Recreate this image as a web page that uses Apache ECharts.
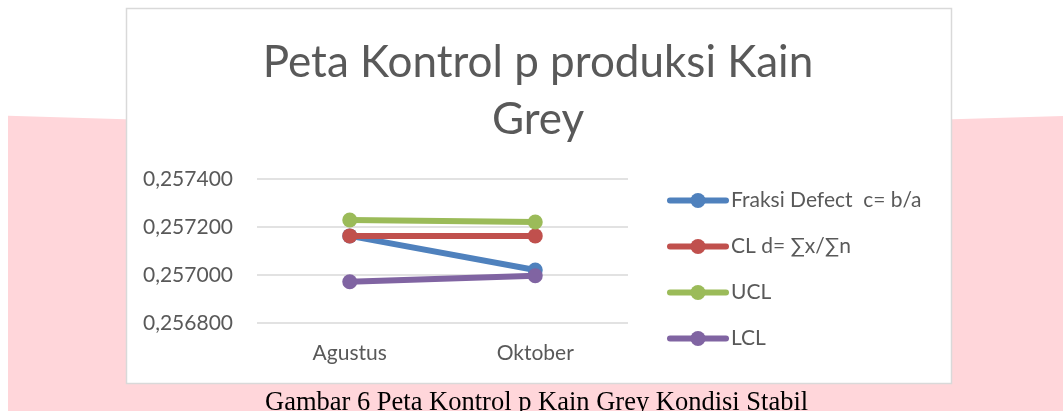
<!DOCTYPE html>
<html>
<head>
<meta charset="utf-8">
<script src="https://cdn.jsdelivr.net/npm/echarts@6/dist/echarts.min.js"></script>
<style>
  html,body{margin:0;padding:0;background:#fff;}
  #chart{width:1063px;height:411px;}
</style>
</head>
<body>
<div id="chart"></div>
<script>
// data
var months = ['Agustus', 'Oktober'];
var fraksiDefect = [0.257163, 0.257021];
var clLine = [0.257163, 0.257163];
var uclLine = [0.257229, 0.257221];
var lclLine = [0.256972, 0.256997];
var seriesNames = ['Fraksi Defect  c= b/a', 'CL d= \u2211x/\u2211n', 'UCL', 'LCL'];
var seriesColors = ['#4F81BD', '#C0504D', '#9BBB59', '#8064A2'];

var FONT = 'Lato, "Open Sans", sans-serif';

function mkSeries(i, data) {
  return {
    name: seriesNames[i],
    type: 'line',
    data: data,
    symbol: 'circle',
    symbolSize: 15,
    z: 2 + i,
    itemStyle: {color: seriesColors[i]},
    lineStyle: {color: seriesColors[i], width: 6},
    emphasis: {disabled: true}
  };
}

var option = {
  animation: false,
  backgroundColor: '#fff',
  graphic: [
    {
      type: 'polygon', z: -10, silent: true,
      shape: {points: [[8, 115.7], [125, 119.3], [540, 122], [953, 119.3], [1063, 116], [1063, 411], [8, 411]]},
      style: {fill: '#FFD6DA'}
    },
    {
      type: 'rect', z: -5, silent: true,
      shape: {x: 126.5, y: 8.5, width: 825, height: 375},
      style: {fill: '#fff', stroke: '#D9D9D9', lineWidth: 1.5}
    },
    {
      type: 'text', z: 5, silent: true,
      left: 265, top: 390,
      style: {
        text: 'Gambar 6 Peta Kontrol p Kain Grey Kondisi Stabil',
        fill: '#000', font: '26.5px "Liberation Serif", "Times New Roman", serif'
      }
    }
  ],
  title: {
    text: 'Peta Kontrol p produksi Kain\nGrey',
    left: 533,
    textAlign: 'center',
    top: 29,
    textStyle: {fontFamily: FONT, fontSize: 44, fontWeight: 'normal', color: '#595959', lineHeight: 57}
  },
  legend: {
    orient: 'vertical',
    left: 667,
    top: 190,
    padding: 0,
    itemWidth: 56,
    itemHeight: 19,
    itemGap: 25,
    data: seriesNames,
    lineStyle: {width: 6, cap: 'round'},
    textStyle: {fontFamily: FONT, fontSize: 21, color: '#595959'}
  },
  grid: {left: 257, right: 435, top: 179, bottom: 88},
  xAxis: {
    type: 'category',
    data: months,
    boundaryGap: true,
    axisLine: {show: false},
    axisTick: {show: false},
    axisLabel: {fontFamily: FONT, fontSize: 21, color: '#595959', margin: 20}
  },
  yAxis: {
    type: 'value',
    min: 0.2568,
    max: 0.2574,
    interval: 0.0002,
    axisLine: {show: false},
    axisTick: {show: false},
    splitLine: {lineStyle: {color: '#D9D9D9', width: 1.5}},
    axisLabel: {
      fontFamily: FONT, fontSize: 21, color: '#595959', margin: 24,
      formatter: function (v) { return v.toFixed(6).replace('.', ','); }
    }
  },
  series: [
    mkSeries(0, fraksiDefect),
    mkSeries(1, clLine),
    mkSeries(2, uclLine),
    mkSeries(3, lclLine)
  ]
};

var chart = echarts.init(document.getElementById('chart'));
chart.setOption(option);
</script>
</body>
</html>
